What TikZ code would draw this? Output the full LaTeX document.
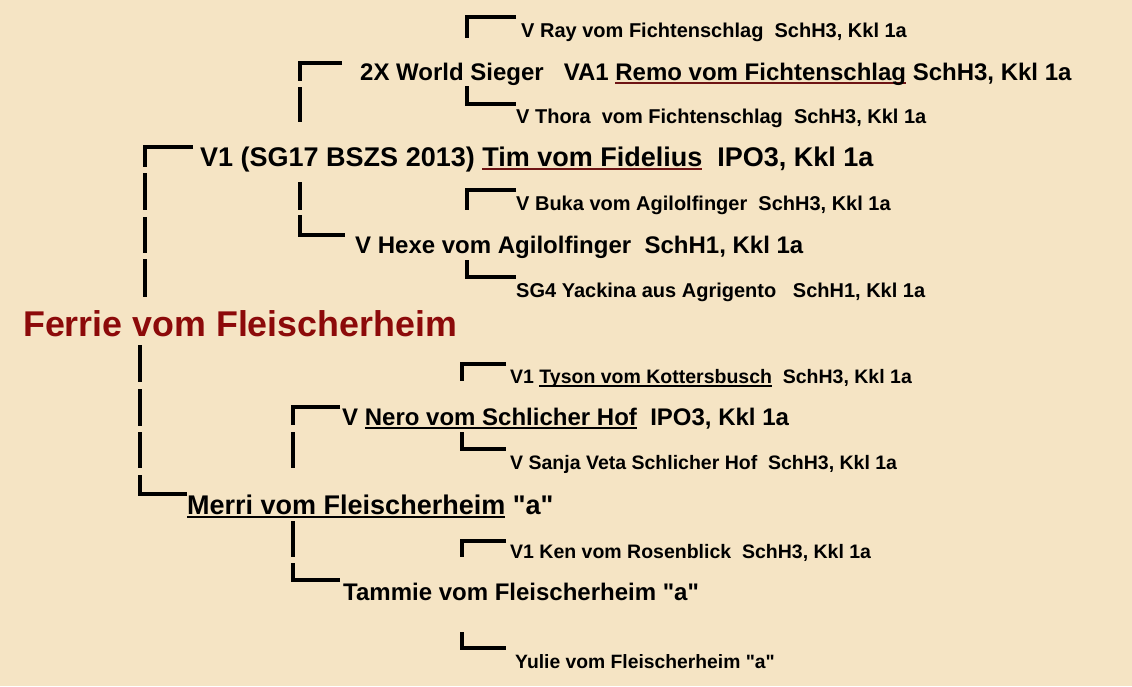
\documentclass[tikz,border=0pt]{standalone}
\usepackage{fontspec}
\setmainfont{Liberation Sans}[Ligatures=TeXOff]
\usepackage{xcolor}
\definecolor{bg}{RGB}{245,228,196}
\definecolor{ferrie}{RGB}{140,10,10}
\definecolor{ulred}{RGB}{110,20,20}
\newcommand\myul[2]{\begingroup\setbox0\hbox{#2}\rlap{\color{#1}\rule[-4pt]{\wd0}{2pt}}\box0\endgroup}
\tikzset{
  lbl/.style={anchor=base west, inner sep=0pt, text=black},
  fs/.style={lbl, font=\bfseries\fontsize{20}{24}\selectfont},
  fss/.style={lbl, font=\bfseries\fontsize{19.5}{24}\selectfont},
  fm/.style={lbl, font=\bfseries\fontsize{24}{28}\selectfont},
  fl/.style={lbl, font=\bfseries\fontsize{27}{31}\selectfont},
  brk/.style={line width=4pt, black, line join=miter}
}
\begin{document}
\begin{tikzpicture}[x=1pt,y=-1pt]
\fill[bg] (0,0) rectangle (1132,686);
\useasboundingbox (0,0) rectangle (1132,686);

% ---- text ----
\node[fs] (ray) at (521,37.5) {V Ray vom Fichtenschlag~~SchH3, Kkl 1a};
\node[fm] (remo) at (360,80) {2X World Sieger~~~VA1 \myul{ulred}{Remo vom Fichtenschlag} SchH3, Kkl 1a};
\node[fs] (thora) at (516,123) {V Thora~~vom Fichtenschlag~~SchH3, Kkl 1a};
\node[fl] (tim) at (200,166) {V1 (SG17 BSZS 2013) \myul{ulred}{Tim vom Fidelius}~~IPO3, Kkl 1a};
\node[fs] (buka) at (516,210) {V Buka vom Agilolfinger~~SchH3, Kkl 1a};
\node[fm] (hexe) at (355,253) {V Hexe vom Agilolfinger~~SchH1, Kkl 1a};
\node[fs] (yack) at (516,297) {SG4 Yackina aus Agrigento~~~SchH1, Kkl 1a};
\node[lbl, text=ferrie, font=\bfseries\fontsize{35.8}{40}\selectfont] (ferrie) at (23,336) {Ferrie vom Fleischerheim};
\node[fss] (tyson) at (510,383) {V1 \myul{black}{Tyson vom Kottersbusch}~~SchH3, Kkl 1a};
\node[fm] (nero) at (342,425) {V \myul{black}{Nero vom Schlicher Hof}~~IPO3, Kkl 1a};
\node[fss] (sanja) at (510,469) {V Sanja Veta Schlicher Hof~~SchH3, Kkl 1a};
\node[lbl, font=\bfseries\fontsize{27}{31}\selectfont] (merri) at (187,514) {\myul{black}{Merri vom Fleischerheim} "a"};
\node[fss] (ken) at (510,558) {V1 Ken vom Rosenblick~~SchH3, Kkl 1a};
\node[fm] (tammie) at (343,600) {Tammie vom Fleischerheim "a"};
\node[lbl, font=\bfseries\fontsize{19.3}{23}\selectfont] (yulie) at (515,668) {Yulie vom Fleischerheim "a"};

% ---- brackets: sire side ----
\draw[brk] (516,16.5) -- (467,16.5) -- (467,38);
\draw[brk] (342,63) -- (300,63) -- (300,81);
\draw[brk] (300,87) -- (300,122);
\draw[brk] (467,86) -- (467,104) -- (516,104);
\draw[brk] (193,146.5) -- (145,146.5) -- (145,167);
\draw[brk] (145,173) -- (145,210);
\draw[brk] (145,217) -- (145,253);
\draw[brk] (145,259) -- (145,297);
\draw[brk] (300,182) -- (300,210);
\draw[brk] (516,190) -- (467,190) -- (467,210);
\draw[brk] (300,215) -- (300,235) -- (345,235);
\draw[brk] (467,260) -- (467,277) -- (516,277);

% ---- brackets: dam side ----
\draw[brk] (140,345) -- (140,382);
\draw[brk] (140,389) -- (140,426);
\draw[brk] (140,432) -- (140,468);
\draw[brk] (140,475) -- (140,494) -- (187,494);
\draw[brk] (506,364) -- (462,364) -- (462,381);
\draw[brk] (340,407) -- (293,407) -- (293,425);
\draw[brk] (293,432) -- (293,468);
\draw[brk] (462,432) -- (462,449) -- (506,449);
\draw[brk] (293,521) -- (293,557);
\draw[brk] (293,563) -- (293,580) -- (340,580);
\draw[brk] (506,541) -- (462,541) -- (462,557);
\draw[brk] (462,632) -- (462,648) -- (506,648);
\end{tikzpicture}
\end{document}
